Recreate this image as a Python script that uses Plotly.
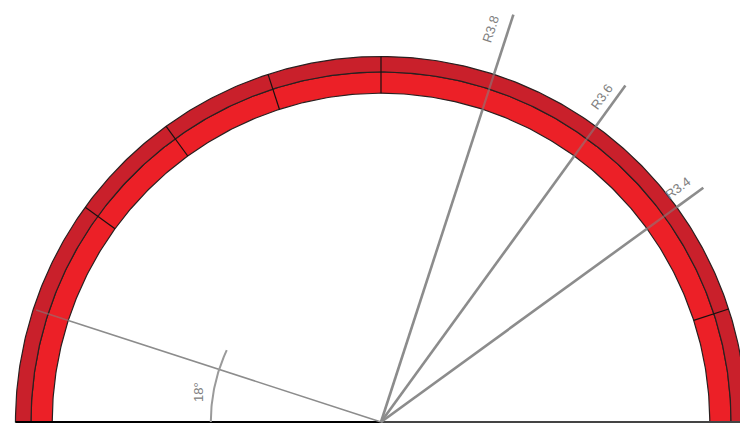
import numpy as np
import plotly.graph_objects as go

# Ring radii (drawing units) and fills
ring_inner = [3.40, 3.62]
ring_outer = [3.62, 3.78]
ring_colors = ["#ec2027", "#c9202b"]
# Segment joints, degrees
joint_angles = [18, 90, 108, 126, 144]
# Dimension leaders: angle, radial length, label
leader_angles = [72, 54, 36]
leader_lengths = [4.43, 4.30, 4.12]
leader_labels = ["R3.8", "R3.6", "R3.4"]
# Angular dimension
angle_line_deg = 162
angle_line_len = 3.75
angle_arc_radius = 1.76
angle_arc_span = [180, 155]
angle_label = "18°"

PX = 96.7
W, H = 740, 423
CX, CY = 381, 422
GREY = "#8c8c8c"
GREY_ON_RING = "rgba(130,130,130,0.55)"

def pol(r, deg):
    t = np.radians(deg)
    return r * np.cos(t), r * np.sin(t)

def seg(r0, r1, deg, color, width):
    x, y = pol(np.array([r0, r1]), deg)
    fig.add_trace(go.Scatter(x=x, y=y, mode="lines", line=dict(color=color, width=width),
                             hoverinfo="skip", showlegend=False))

fig = go.Figure()
arc = np.linspace(0, 180, 361)
for ri, ro, c in zip(ring_inner, ring_outer, ring_colors):
    xo, yo = pol(ro, arc)
    xi, yi = pol(ri, arc[::-1])
    fig.add_trace(go.Scatter(x=np.r_[xo, xi, xo[0]], y=np.r_[yo, yi, yo[0]], mode="lines",
                             fill="toself", fillcolor=c, line=dict(color="#2a2020", width=1.2),
                             hoverinfo="skip", showlegend=False))
for a in joint_angles:
    seg(ring_inner[0], ring_outer[1], a, "#1a1010", 1.2)
fig.add_trace(go.Scatter(x=[-ring_outer[1], 0], y=[0, 0], mode="lines", line=dict(color="#000000", width=2),
                         hoverinfo="skip", showlegend=False))
fig.add_trace(go.Scatter(x=[0, ring_outer[1]], y=[0, 0], mode="lines", line=dict(color="#444444", width=2),
                         hoverinfo="skip", showlegend=False))
for a, l in zip(leader_angles, leader_lengths):
    seg(0, ring_inner[0], a, GREY, 2.6)
    seg(ring_inner[0], ring_outer[1], a, GREY_ON_RING, 2.2)
    seg(ring_outer[1], l, a, GREY, 2.6)
seg(0, ring_inner[0], angle_line_deg, GREY, 1.6)
seg(ring_inner[0], angle_line_len, angle_line_deg, GREY_ON_RING, 1.6)
x, y = pol(angle_arc_radius, np.linspace(angle_arc_span[0], angle_arc_span[1], 40))
fig.add_trace(go.Scatter(x=x, y=y, mode="lines", line=dict(color="#9a9a9a", width=2),
                         hoverinfo="skip", showlegend=False))

label_px = [(491, 30), (601, 97), (677, 188)]
label_rot = [-72, -54, -36]
anns = []
for t, (px, py), rot in zip(leader_labels, label_px, label_rot):
    anns.append(dict(x=px / W, y=1 - py / H, xref="paper", yref="paper", text=t, showarrow=False,
                     xanchor="center", yanchor="middle", textangle=rot,
                     font=dict(family="Liberation Sans", size=13, color="#808080")))
anns.append(dict(x=198 / W, y=1 - 392 / H, xref="paper", yref="paper", text=angle_label, showarrow=False,
                 xanchor="center", yanchor="middle", textangle=-90,
                 font=dict(family="Liberation Sans", size=13, color="#808080")))

fig.update_layout(
    width=W, height=H, margin=dict(l=0, r=0, t=0, b=0),
    paper_bgcolor="white", plot_bgcolor="white", annotations=anns,
    xaxis=dict(range=[-CX / PX, (W - CX) / PX], visible=False, fixedrange=True),
    yaxis=dict(range=[-(H - CY) / PX, CY / PX], visible=False, fixedrange=True),
)
fig.write_html("out.html", config=dict(displayModeBar=False),
               post_script="document.body.style.margin='0';document.documentElement.style.overflow='hidden';")
